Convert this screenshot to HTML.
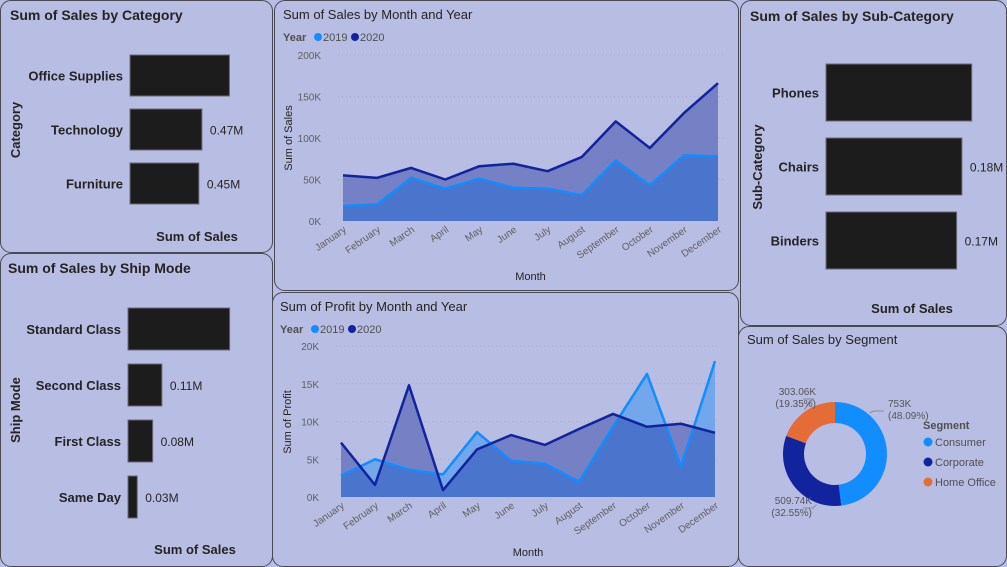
<!DOCTYPE html>
<html><head><meta charset="utf-8"><style>
body{margin:0;width:1007px;height:567px;background:#b8bde3;font-family:"Liberation Sans",sans-serif;overflow:hidden;position:relative}
.p{position:absolute;background:#b8bde3;border:1px solid #4a4a55;border-radius:11px;box-sizing:border-box}
svg{position:absolute;left:0;top:0}
</style></head><body>
<div class="p" style="left:0;top:0;width:273px;height:253px"></div>
<div class="p" style="left:0;top:253px;width:273px;height:314px"></div>
<div class="p" style="left:274px;top:0;width:465px;height:291px"></div>
<div class="p" style="left:272px;top:292px;width:467px;height:275px"></div>
<div class="p" style="left:740px;top:0;width:267px;height:326px"></div>
<div class="p" style="left:738px;top:326px;width:269px;height:241px"></div>
<svg id="s" width="1007" height="567"></svg>
<script>
const catNames=["Office Supplies","Technology","Furniture"];
const catVals=[0.65,0.47,0.45];
const catLabels=["","0.47M","0.45M"];
const shipNames=["Standard Class","Second Class","First Class","Same Day"];
const shipVals=[0.33,0.11,0.08,0.03];
const shipLabels=["","0.11M","0.08M","0.03M"];
const subNames=["Phones","Chairs","Binders"];
const subVals=[0.193,0.18,0.173];
const subLabels=["","0.18M","0.17M"];
const months=["January","February","March","April","May","June","July","August","September","October","November","December"];
const sales2019=[18,20,52,39,51,40,39,31,73,43,79,78];
const sales2020=[55,52,64,50,66,69,60,77,120,88,130,166];
const salesTicks=[0,50,100,150,200];
const profit2019=[2.8,5,3.6,3,8.6,4.8,4.4,2,9.3,16.3,4,18];
const profit2020=[7.2,1.6,14.8,0.9,6.3,8.2,6.9,9,11,9.3,9.7,8.5];
const profitTicks=[0,5,10,15,20];
const segNames=["Consumer","Corporate","Home Office"];
const segVals=[48.09,32.55,19.35];
const segLabels=["753K","509.74K","303.06K"];
const segColors=["#118dff","#12239e","#e66c37"];

const S=document.getElementById('s');const NS="http://www.w3.org/2000/svg";
function mk(t,a,txt){const e=document.createElementNS(NS,t);for(const k in a)e.setAttribute(k,a[k]);if(txt!==undefined)e.textContent=txt;S.appendChild(e);return e;}
function text(x,y,s,o){o=o||{};const e=mk('text',{x:x,y:y,'font-size':o.fs||12,'font-weight':o.fw||'normal',fill:o.fill||'#252423','text-anchor':o.a||'start'},s);if(o.rot)e.setAttribute('transform',`rotate(${o.rot} ${x} ${y})`);return e;}

let t;
t=text(10,20,"Sum of Sales by Category",{fs:14,fw:'bold'});
t=text(8,273,"Sum of Sales by Ship Mode",{fs:14,fw:'bold'});
t=text(750,21,"Sum of Sales by Sub-Category",{fs:14,fw:'bold'});
t=text(283,19,"Sum of Sales by Month and Year",{fs:13});
t=text(280,311,"Sum of Profit by Month and Year",{fs:13});
t=text(747,344,"Sum of Sales by Segment",{fs:13});

function hbars(names,vals,labels,x0,scale,y0,step,h,axisTitle,axX,axY,titleX,titleY,prefix){
  names.forEach((n,i)=>{
    const y=y0+i*step;const w=vals[i]*scale;
    const r=mk('rect',{x:x0,y:y,width:w,height:h,fill:'#1c1c1c',stroke:'#6a6a78','stroke-width':1});
    
    
    const l=text(x0-7,y+h/2+5,n,{fs:13,fw:'bold',a:'end'});
    
    
    if(labels[i]){const v=text(x0+w+8,y+h/2+5,labels[i],{fs:12});}
  });
  const a=text(axX,axY,"Sum of Sales",{fs:13,fw:'bold',a:'middle'});
  const b=text(titleX,titleY,axisTitle,{fs:13,fw:'bold',a:'middle',rot:-90});
}
hbars(catNames,catVals,catLabels,130,153,55,54,41,"Category",197,241,20,130,'category');
hbars(shipNames,shipVals,shipLabels,128,308,308,56,42,"Ship Mode",195,554,20,410,'ship');
hbars(subNames,subVals,subLabels,826,755,64,74,57,"Sub-Category",912,313,762,167,'subcategory');

function legend(x,y,p){
  let e=text(x,y,"Year",{fs:11,fw:'bold',fill:'#505050'});
  e=mk('circle',{cx:x+35,cy:y-4,r:4,fill:'#118dff'});
  e=text(x+40,y,"2019",{fs:11,fill:'#505050'});
  e=mk('circle',{cx:x+72,cy:y-4,r:4,fill:'#12239e'});
  e=text(x+77,y,"2020",{fs:11,fill:'#505050'});
}
legend(283,41,'sales');legend(280,333,'profit');

let clipId=0;
function area(p,s19,s20,ticks,tmax,x0,x1,yb,yt,ytitle,ytx,yty,xtitleY){
  const X=i=>x0+i*(x1-x0)/(months.length-1);
  const Y=v=>yb-v/tmax*(yb-yt);
  ticks.forEach(tv=>{
    if(tv>0){const g=mk('line',{x1:x0-5,x2:x1+5,y1:Y(tv),y2:Y(tv),stroke:'#a0a6cc','stroke-dasharray':'1 3'});}
    const l=text(x0-22,Y(tv)+4,tv+"K",{fs:10,fill:'#606060',a:'end'});
  });
  months.forEach((m,i)=>{const l=text(X(i)+4,yb+10,m,{fs:10,fill:'#606060',a:'end',rot:-35});});
  const pts=a=>a.map((v,i)=>X(i)+','+Y(v)).join(' ');
  const poly=a=>X(0)+','+yb+' '+pts(a)+' '+X(a.length-1)+','+yb;
  let e=mk('polygon',{points:poly(s20),fill:'#7680c4'});
  e=mk('polygon',{points:poly(s19),fill:'#72a7ec'});
  const id='c'+(clipId++);
  const cp=mk('clipPath',{id:id});const cpp=document.createElementNS(NS,'polygon');cpp.setAttribute('points',poly(s20));cp.appendChild(cpp);
  e=mk('polygon',{points:poly(s19),fill:'#4b74cd','clip-path':`url(#${id})`});
  e=mk('polyline',{points:pts(s19),fill:'none',stroke:'#118dff','stroke-width':2.5,'stroke-linejoin':'round'});
  e=mk('polyline',{points:pts(s20),fill:'none',stroke:'#12239e','stroke-width':2.5,'stroke-linejoin':'round'});
  e=text(ytx,yty,ytitle,{fs:11,a:'middle',rot:-90});
  e=text((x0+x1)/2,xtitleY,"Month",{fs:11,a:'middle'});
}
area('sales',sales2019,sales2020,salesTicks,200,343,718,221,55,"Sum of Sales",292,138,280);
area('profit',profit2019,profit2020,profitTicks,20,341,715,497,346,"Sum of Profit",291,422,556);

// donut
const cx=835,cy=454,R=52,r=31;
// label layout: [leader angle (deg), elbow x, elbow y, text x, anchor]
const labelLayout=[[-50,874,411,888,'start'],[110,813,508,812,'end'],[-125,813,399,816,'end']];
const tot=segVals.reduce((a,b)=>a+b,0);let ang=-Math.PI/2;
segVals.forEach((v,i)=>{
  const a2=ang+v/tot*2*Math.PI;
  const P=(rad,a)=>[cx+rad*Math.cos(a),cy+rad*Math.sin(a)];
  const [x1,y1]=P(R,ang),[x2,y2]=P(R,a2),[x3,y3]=P(r,a2),[x4,y4]=P(r,ang);
  const lg=(a2-ang)>Math.PI?1:0;
  const e=mk('path',{d:`M${x1},${y1} A${R},${R} 0 ${lg} 1 ${x2},${y2} L${x3},${y3} A${r},${r} 0 ${lg} 0 ${x4},${y4}Z`,fill:segColors[i]});
  
  
  const L=labelLayout[i];const la=L[0]*Math.PI/180;
  const [ex,ey]=P(R+2,la);
  const right=L[4]==='start';
  const ln=mk('polyline',{points:`${ex},${ey} ${L[1]},${L[2]} ${L[1]+(right?10:-10)},${L[2]}`,fill:'none',stroke:'#8a8a9a'});
  
  const ty=i===1?L[2]-4:L[2]-4;
  let tl=text(L[3],ty,segLabels[i],{fs:10,fill:'#555',a:L[4]});
  tl=text(L[3],ty+12,"("+v.toFixed(2)+"%)",{fs:10,fill:'#555',a:L[4]});
  ang=a2;
});
t=text(923,429,"Segment",{fs:11,fw:'bold',fill:'#505050'});
segNames.forEach((n,i)=>{
  const y=446+i*20;
  let e=mk('circle',{cx:928,cy:y-4,r:4.5,fill:segColors[i]});
  e=text(935,y,n,{fs:11,fill:'#505050'});
});
</script>
</body></html>
